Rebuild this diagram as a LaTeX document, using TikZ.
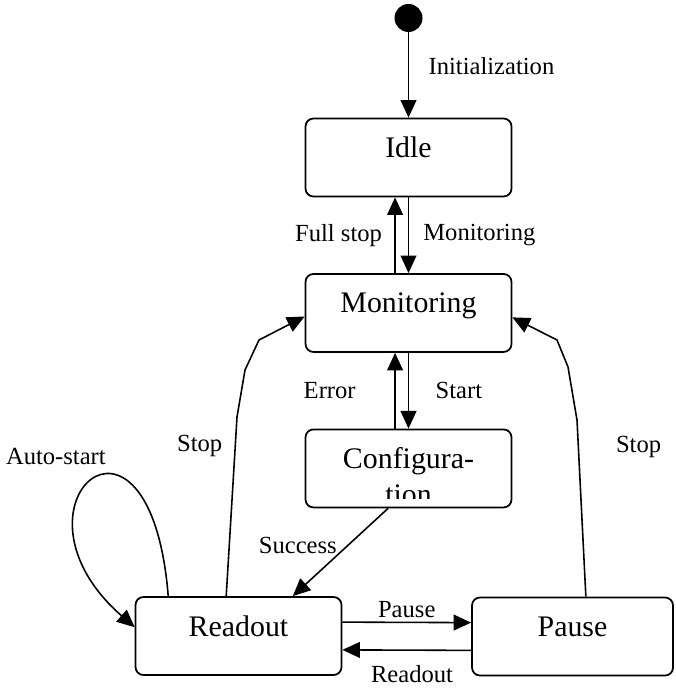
\documentclass[tikz,border=0pt]{standalone}
\usepackage{fontspec}
\setmainfont{Liberation Serif}
\usetikzlibrary{arrows.meta,positioning}

\begin{document}
\begin{tikzpicture}[x=0.02cm, y=-0.02cm]
\tikzset{node distance=3.11cm,
    state/.style={rectangle, draw, rounded corners=4.5pt, line width=1pt, minimum width=4.12cm, minimum height=1.56cm, inner sep=0pt, text height=11pt, text depth=11pt, font=\fontsize{17}{20}\selectfont},
    lbl/.style={inner sep=1pt, font=\fontsize{14}{16}\selectfont},
    trans/.style={-{Triangle[length=10pt, width=9pt]}, line width=0.9pt}
}
  \useasboundingbox (0,0) rectangle (675,688);

  \node[circle, fill, inner sep=0pt, minimum size=0.56cm] (init) at (408.5,18) {};
  \node[state] (idle) at (408.5,157.5) {Idle};
  \node[state, below of=idle] (monitor) {Monitoring};
  \node[state, below of=monitor] (config) {Configura-};
  \begin{scope}
    \clip (config.north west) rectangle ([yshift=5.7pt]config.south east);
    \node[anchor=base, inner sep=0pt, font=\fontsize{17}{20}\selectfont] (tion) at ([yshift=-20.5pt]config.base) {tion};
  \end{scope}
  \node[state] (readout) at (238.5,636) {Readout};
  \node[state, minimum width=4.02cm] (pause) at (572.5,636.5) {Pause};

  \draw[trans] (init) -- node[lbl, right=10pt, pos=0.4] {Initialization} (idle);
  \draw[trans] ([xshift=-7.65pt]monitor.north) -- node[lbl, left=6pt] {Full stop} ([xshift=-7.65pt]idle.south);
  \draw[trans] (idle) -- node[lbl, right=7pt] {Monitoring} (monitor);
  \draw[trans] ([xshift=-7.65pt]config.north) -- node[lbl, left=21pt] {Error} ([xshift=-7.65pt]monitor.south);
  \draw[trans] (monitor) -- node[lbl, right=14pt] {Start} (config);
  \draw[trans] ([xshift=-11.6pt]config.south) -- node[lbl, left=5pt, pos=0.42] {Success} ([xshift=30.9pt]readout.north);
  \draw[trans] ([yshift=7.9pt]readout.east) -- node[lbl, above=1pt] {Pause} ([yshift=7.9pt]pause.west);
  \draw[trans] ([yshift=-7.9pt]pause.west) -- node[lbl, below=7pt, xshift=3pt] {Readout} ([yshift=-7.9pt]readout.east);
  % stop transitions back to monitoring
  \draw[trans] ([xshift=-7pt]readout.north) -- node[lbl, left=6pt, pos=0.84] {Stop} (237,417) -- (245,370) -- (259,340) -- ([yshift=-2pt]monitor.west);
  \draw[trans] ([xshift=7.6pt]pause.north) -- node[lbl, right=20pt, pos=0.85] {Stop} (577,420) -- (568,367) -- (557,340) -- ([yshift=-2.5pt]monitor.east);
  % self loop
  \draw[trans] ([xshift=-40pt]readout.north) .. controls (150,370) and (-5,505) .. node[lbl, pos=0.4, anchor=south east, yshift=4pt] {Auto-start} ([yshift=5pt]readout.west);
\end{tikzpicture}
\end{document}
